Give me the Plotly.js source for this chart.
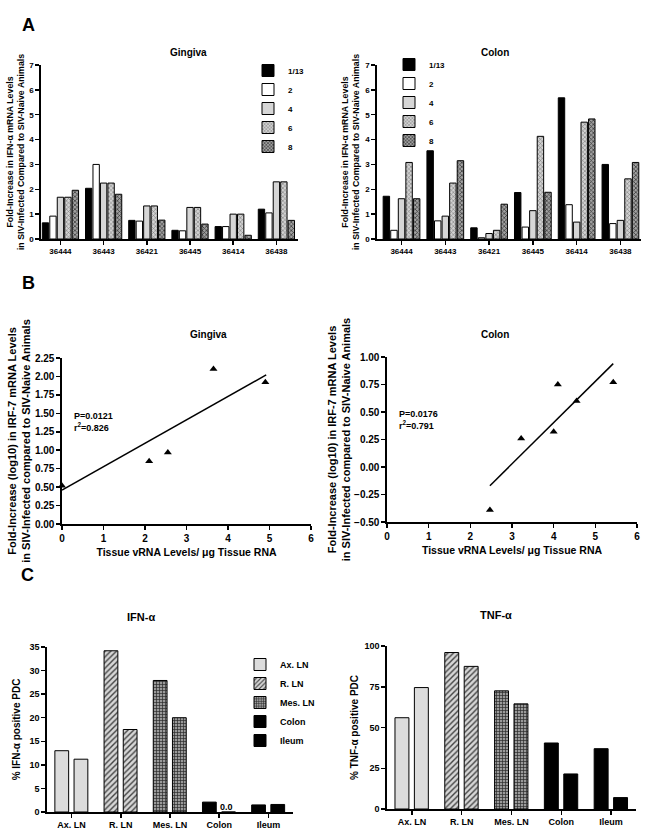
<!DOCTYPE html>
<html>
<head>
<meta charset="utf-8">
<script src="https://cdn.plot.ly/plotly-3.0.1.min.js"></script>
<style>html,body{margin:0;padding:0;background:#fff;}#chart{width:647px;height:829px;}</style>
</head>
<body>
<div id="chart"></div>
<script>
// ---------- DATA ----------
const weeks = ['1/13', '2', '4', '6', '8'];
const animals = ['36444', '36443', '36421', '36445', '36414', '36438'];

// Panel A – Gingiva (fold increase IFN-α), one array per week
const gingivaW1 = [0.65, 2.04, 0.75, 0.35, 0.50, 1.20];
const gingivaW2 = [0.92, 3.00, 0.72, 0.33, 0.50, 1.05];
const gingivaW4 = [1.68, 2.25, 1.33, 1.27, 1.00, 2.30];
const gingivaW6 = [1.68, 2.25, 1.33, 1.27, 1.00, 2.30];
const gingivaW8 = [1.96, 1.80, 0.76, 0.60, 0.15, 0.75];

// Panel A – Colon
const colonW1 = [1.72, 3.55, 0.45, 1.87, 5.68, 3.00];
const colonW2 = [0.35, 0.73, 0.05, 0.48, 1.38, 0.62];
const colonW4 = [1.62, 0.92, 0.22, 1.14, 0.68, 0.75];
const colonW6 = [3.08, 2.25, 0.35, 4.13, 4.70, 2.42];
const colonW8 = [1.62, 3.15, 1.40, 1.88, 4.83, 3.08];

// Panel B – IRF-7 vs tissue vRNA
const gingivaVrna = [0.00, 2.10, 2.55, 3.65, 4.90];
const gingivaIrf7 = [0.52, 0.85, 0.97, 2.10, 1.92];
const gingivaFitX = [0.00, 4.92];
const gingivaFitY = [0.46, 2.02];
const colonVrna = [2.47, 3.22, 4.00, 4.10, 4.55, 5.43];
const colonIrf7 = [-0.39, 0.26, 0.32, 0.75, 0.60, 0.77];
const colonFitX = [2.47, 5.43];
const colonFitY = [-0.17, 0.94];
const gingivaStats = 'P=0.0121<br>r<sup>2</sup>=0.826';
const colonStats = 'P=0.0176<br>r<sup>2</sup>=0.791';

// Panel C – % positive PDC (two animals per tissue)
const tissues = ['Ax. LN', 'R. LN', 'Mes. LN', 'Colon', 'Ileum'];
const ifnFirst  = [13.0, 34.2, 27.9, 2.1, 1.5];
const ifnSecond = [11.2, 17.5, 20.0, 0.0, 1.6];
const tnfFirst  = [56.0, 96.0, 72.5, 40.5, 37.0];
const tnfSecond = [74.5, 87.5, 64.5, 21.5, 7.0];

// ---------- STYLE ----------
const W = 647, H = 829;
const FONT = 'Liberation Sans, Arial, Helvetica, sans-serif';
const dx = (a, b) => [a / W, b / W];
const dy = (top, bottom) => [1 - bottom / H, 1 - top / H];
const px = x => x / W;
const py = y => 1 - y / H;
const bold = (size) => ({family: FONT, size: size, color: '#000', weight: 'bold'});

const weekStyles = [
  {color: '#000000'},
  {color: '#ffffff'},
  {color: '#d6d6d6'},
  {color: '#cccccc', pattern: {shape: 'x', fgcolor: '#6a6a6a', bgcolor: '#d2d2d2', size: 3, solidity: 0.3}},
  {color: '#999999', pattern: {shape: 'x', fgcolor: '#303030', bgcolor: '#a0a0a0', size: 3, solidity: 0.4}}
];
const tissueStyles = [
  {color: '#dcdcdc'},
  {color: '#cccccc', pattern: {shape: '/', fgcolor: '#444444', bgcolor: '#d6d6d6', size: 4, solidity: 0.35}},
  {color: '#999999', pattern: {shape: '+', fgcolor: '#2a2a2a', bgcolor: '#9a9a9a', size: 3, solidity: 0.4}},
  {color: '#000000'},
  {color: '#000000'}
];
const BAR_OFFSETS = [-0.34, 0.05];
const BAR_WIDTH = 0.28;

const data = [];
const gingivaSeries = [gingivaW1, gingivaW2, gingivaW4, gingivaW6, gingivaW8];
const colonSeries = [colonW1, colonW2, colonW4, colonW6, colonW8];

gingivaSeries.forEach((vals, i) => {
  data.push({
    type: 'bar', x: animals, y: vals, name: weeks[i], xaxis: 'x', yaxis: 'y', legend: 'legend',
    marker: Object.assign({line: {color: '#000', width: 1}}, weekStyles[i]), hoverinfo: 'y'
  });
});
colonSeries.forEach((vals, i) => {
  data.push({
    type: 'bar', x: animals, y: vals, name: weeks[i], xaxis: 'x2', yaxis: 'y2', legend: 'legend2',
    marker: Object.assign({line: {color: '#000', width: 1}}, weekStyles[i]), hoverinfo: 'y'
  });
});

// Panel B
data.push({type: 'scatter', mode: 'markers', x: gingivaVrna, y: gingivaIrf7, xaxis: 'x3', yaxis: 'y3',
  marker: {symbol: 'triangle-up', size: 7, color: '#000'}, showlegend: false, cliponaxis: false});
data.push({type: 'scatter', mode: 'lines', x: gingivaFitX, y: gingivaFitY, xaxis: 'x3', yaxis: 'y3',
  line: {color: '#000', width: 1.5}, showlegend: false, cliponaxis: false});
data.push({type: 'scatter', mode: 'markers', x: colonVrna, y: colonIrf7, xaxis: 'x4', yaxis: 'y4',
  marker: {symbol: 'triangle-up', size: 7, color: '#000'}, showlegend: false, cliponaxis: false});
data.push({type: 'scatter', mode: 'lines', x: colonFitX, y: colonFitY, xaxis: 'x4', yaxis: 'y4',
  line: {color: '#000', width: 1.5}, showlegend: false, cliponaxis: false});

// Panel C
const zeroLabels = [];
tissues.forEach((t, i) => {
  const vals = [ifnFirst[i], ifnSecond[i]];
  data.push({
    type: 'bar', x: [t, t], y: vals, name: t, xaxis: 'x5', yaxis: 'y5', legend: 'legend3',
    offset: BAR_OFFSETS, width: [BAR_WIDTH, BAR_WIDTH],
    marker: Object.assign({line: {color: '#000', width: 1}}, tissueStyles[i])
  });
  vals.forEach((v, j) => {
    if (v === 0) {
      zeroLabels.push({text: v.toFixed(1), x: t, y: v, xref: 'x5', yref: 'y5', yanchor: 'bottom',
        xshift: (BAR_OFFSETS[j] + BAR_WIDTH / 2) * 49.2 - 2, yshift: -2, showarrow: false, font: bold(9)});
    }
  });
  data.push({
    type: 'bar', x: [t, t], y: [tnfFirst[i], tnfSecond[i]], name: t, xaxis: 'x6', yaxis: 'y6',
    offset: BAR_OFFSETS, width: [BAR_WIDTH, BAR_WIDTH], showlegend: false,
    marker: Object.assign({line: {color: '#000', width: 1}}, tissueStyles[i])
  });
});

const axisBase = {
  showline: true, linecolor: '#000', linewidth: 1.6, ticks: 'outside', ticklen: 4, tickwidth: 1.5,
  tickcolor: '#000', showgrid: false, zeroline: false, fixedrange: true
};
const ax = (o) => Object.assign({}, axisBase, o);

const layout = {
  width: W, height: H, margin: {l: 0, r: 0, t: 0, b: 0},
  paper_bgcolor: '#fff', plot_bgcolor: '#fff',
  font: {family: FONT, color: '#000'},
  barmode: 'group', bargap: 0.135, bargroupgap: 0.15,
  xaxis: ax({domain: dx(41, 298), anchor: 'y', type: 'category', range: [-0.45, 5.5], tickfont: bold(8)}),
  yaxis: ax({domain: dy(65, 239), anchor: 'x', range: [0, 7], dtick: 1, tickfont: bold(8),
    title: {text: 'Fold-Increase in IFN-α mRNA Levels<br>in SIV-Infected Compared to SIV-Naive Animals', font: bold(8.8), standoff: 3}}),
  xaxis2: ax({domain: dx(377, 641), anchor: 'y2', type: 'category', range: [-0.56, 5.47], tickfont: bold(8)}),
  yaxis2: ax({domain: dy(65, 239), anchor: 'x2', range: [0, 7], dtick: 1, tickfont: bold(8),
    title: {text: 'Fold-Increase in IFN-α mRNA Levels<br>in SIV-Infected Compared to SIV-Naive Animals', font: bold(8.8), standoff: 4}}),
  xaxis3: ax({domain: dx(62, 311), anchor: 'y3', range: [0, 6], dtick: 1, tickfont: bold(10),
    title: {text: 'Tissue vRNA Levels/ μg Tissue RNA', font: bold(10.5), standoff: 6}}),
  yaxis3: ax({domain: dy(358, 524), anchor: 'x3', range: [0, 2.25], dtick: 0.25, tickformat: '.2f', tickfont: bold(10),
    title: {text: 'Fold-Increase (log10) in IRF-7 mRNA Levels<br>in SIV-Infected compared to SIV-Naive Animals', font: bold(11), standoff: 2}}),
  xaxis4: ax({domain: dx(387, 637), anchor: 'y4', range: [0, 6], dtick: 1, tickfont: bold(10),
    title: {text: 'Tissue vRNA Levels/ μg Tissue RNA', font: bold(10.5), standoff: 6}}),
  yaxis4: ax({domain: dy(357, 522), anchor: 'x4', range: [-0.5, 1.0], dtick: 0.25, tickformat: '.2f', tickfont: bold(10),
    title: {text: 'Fold-Increase (log10) in IRF-7 mRNA Levels<br>in SIV-Infected compared to SIV-Naive Animals', font: bold(11), standoff: 1}}),
  xaxis5: ax({domain: dx(47, 293), anchor: 'y5', type: 'category', range: [-0.5, 4.5], tickfont: bold(9),
    categoryorder: 'array', categoryarray: tissues}),
  yaxis5: ax({domain: dy(647, 812), anchor: 'x5', range: [0, 35], dtick: 5, tickfont: bold(9),
    title: {text: '% IFN-α positive PDC', font: bold(10), standoff: 7}}),
  xaxis6: ax({domain: dx(387, 636), anchor: 'y6', type: 'category', range: [-0.5, 4.5], tickfont: bold(9),
    categoryorder: 'array', categoryarray: tissues}),
  yaxis6: ax({domain: dy(646, 809), anchor: 'x6', range: [0, 100], dtick: 25, tickfont: bold(9),
    title: {text: '% TNF-α positive PDC', font: bold(10), standoff: 4}}),
  legend: {x: px(248), y: py(56), xanchor: 'left', yanchor: 'top', font: bold(8), bgcolor: 'rgba(0,0,0,0)', itemclick: false},
  legend2: {x: px(389), y: py(50), xanchor: 'left', yanchor: 'top', font: bold(8), bgcolor: 'rgba(0,0,0,0)', itemclick: false},
  legend3: {x: px(240), y: py(650), xanchor: 'left', yanchor: 'top', font: bold(9), bgcolor: 'rgba(0,0,0,0)', itemclick: false},
  annotations: [
    {text: 'A', x: px(20), y: py(13), xref: 'paper', yref: 'paper', showarrow: false, font: bold(18)},
    {text: 'B', x: px(20), y: py(283), xref: 'paper', yref: 'paper', showarrow: false, font: bold(18)},
    {text: 'C', x: px(19), y: py(587), xref: 'paper', yref: 'paper', showarrow: false, font: bold(18)},
    {text: 'Gingiva', x: px(168), y: py(45), xref: 'paper', yref: 'paper', showarrow: false, font: bold(10)},
    {text: 'Colon', x: px(511), y: py(45), xref: 'paper', yref: 'paper', showarrow: false, font: bold(10)},
    {text: 'Gingiva', x: px(188), y: py(334), xref: 'paper', yref: 'paper', showarrow: false, font: bold(10)},
    {text: 'Colon', x: px(511), y: py(334), xref: 'paper', yref: 'paper', showarrow: false, font: bold(10)},
    {text: 'IFN-α', x: px(125), y: py(625), xref: 'paper', yref: 'paper', showarrow: false, font: bold(11)},
    {text: 'TNF-α', x: px(514), y: py(623), xref: 'paper', yref: 'paper', showarrow: false, font: bold(11)},
    {text: gingivaStats, x: px(72), y: py(422), xref: 'paper', yref: 'paper', xanchor: 'left', align: 'left', showarrow: false, font: bold(9)},
    {text: colonStats, x: px(397), y: py(420), xref: 'paper', yref: 'paper', xanchor: 'left', align: 'left', showarrow: false, font: bold(9)}
  ].concat(zeroLabels)
};

Plotly.newPlot('chart', data, layout, {displayModeBar: false, staticPlot: true});
</script>
</body>
</html>
